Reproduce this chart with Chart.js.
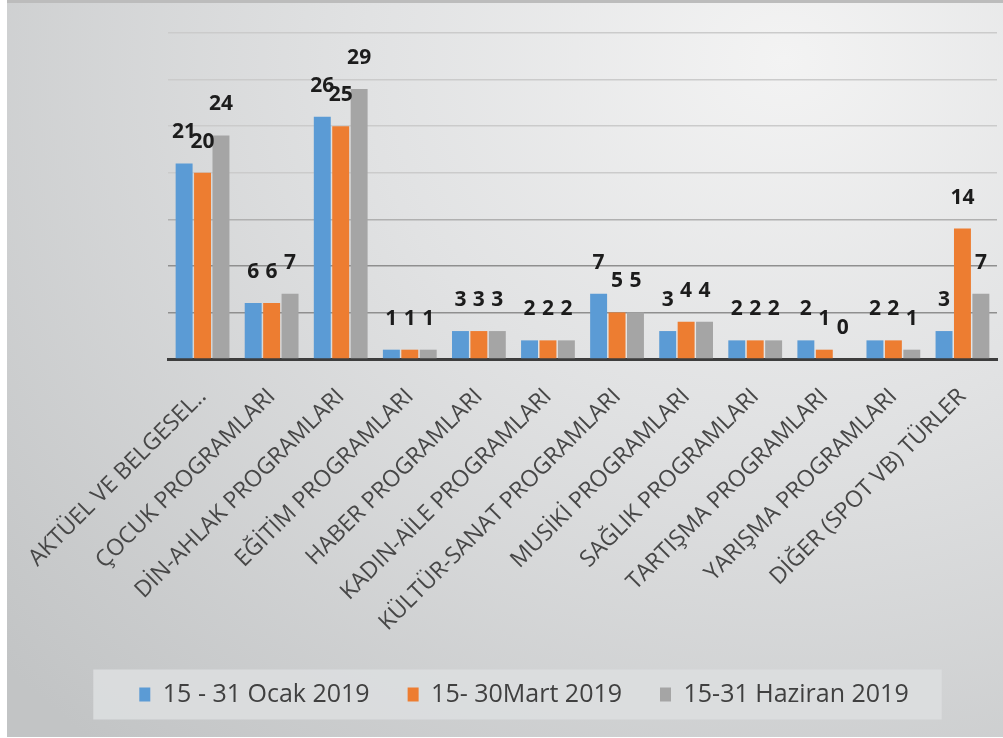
<!DOCTYPE html>
<html>
<head>
<meta charset="utf-8">
<script src="https://cdn.jsdelivr.net/npm/chart.js@4.4.1/dist/chart.umd.min.js"></script>
<style>
html, body { margin: 0; padding: 0; background: #fff; }
#frame {
    position: absolute; left: 7px; top: 0; width: 996px; height: 737px;
    background: radial-gradient(ellipse at 78% 8%, #f3f3f3 0%, #e1e2e3 38%, #c2c4c5 95%);
    box-shadow: inset 0 3px 0 #bcbcbc;
}
#chart { position: absolute; left: 0; top: 0; }
</style>
</head>
<body>
<div id="frame"><canvas id="chart" width="996" height="737"></canvas></div>
<script>
"use strict";
const categories = [
    'AKTÜEL VE BELGESEL..', 'ÇOCUK PROGRAMLARI', 'DİN-AHLAK PROGRAMLARI', 'EĞİTİM PROGRAMLARI',
    'HABER PROGRAMLARI', 'KADIN-AİLE PROGRAMLARI', 'KÜLTÜR-SANAT PROGRAMLARI', 'MUSİKİ PROGRAMLARI',
    'SAĞLIK PROGRAMLARI', 'TARTIŞMA PROGRAMLARI', 'YARIŞMA PROGRAMLARI', 'DİĞER (SPOT VB) TÜRLER'
];
const seriesNames = ['15 - 31 Ocak 2019', '15- 30Mart 2019', '15-31 Haziran 2019'];
const ocak = [21, 6, 26, 1, 3, 2, 7, 3, 2, 2, 2, 3];
const mart = [20, 6, 25, 1, 3, 2, 5, 4, 2, 1, 2, 14];
const haziran = [24, 7, 29, 1, 3, 2, 5, 4, 2, 0, 1, 7];
const seriesColors = ['#5b9bd5', '#ed7d31', '#a5a5a5'];
const yMax = 35;
const yStep = 5;

// numbers above the bars, Excel style
const valueLabels = {
    id: 'valueLabels',
    afterDatasetsDraw(chart) {
        const ctx = chart.ctx;
        ctx.save();
        ctx.font = 'bold 21px "Open Sans"';
        ctx.fillStyle = '#1c1c1c';
        ctx.textAlign = 'center';
        ctx.textBaseline = 'middle';
        chart.data.datasets.forEach((ds, i) => {
            chart.getDatasetMeta(i).data.forEach((bar, j) => {
                ctx.fillText(ds.data[j], bar.x, bar.y - 31);
            });
        });
        ctx.restore();
    }
};

// light box behind the legend
const legendBox = {
    id: 'legendBox',
    beforeDraw(chart) {
        const boxes = chart.legend.legendHitBoxes;
        if (!boxes || !boxes.length) return;
        let left = Infinity, right = -Infinity, top = Infinity, bottom = -Infinity;
        boxes.forEach(b => {
            left = Math.min(left, b.left);
            right = Math.max(right, b.left + b.width);
            top = Math.min(top, b.top);
            bottom = Math.max(bottom, b.top + b.height);
        });
        const cy = (top + bottom) / 2;
        const ctx = chart.ctx;
        ctx.save();
        ctx.fillStyle = 'rgba(220,222,223,0.9)';
        ctx.fillRect(left - 46, cy - 25, right - left + 79, 50);
        ctx.restore();
    }
};

function gridColor(c) {
    const v = c.tick ? c.tick.value : 0;
    if (v === 5 || v === 10) return '#8f8f8f';
    if (v === 15) return '#b0b0b0';
    return '#cbcbcb';
}

const data = {
    labels: categories,
    datasets: [
        { label: seriesNames[0], data: ocak, backgroundColor: seriesColors[0] },
        { label: seriesNames[1], data: mart, backgroundColor: seriesColors[1] },
        { label: seriesNames[2], data: haziran, backgroundColor: seriesColors[2] }
    ]
};

const options = {
    responsive: false,
    animation: false,
    layout: { padding: { left: 44, right: 6, top: 33, bottom: 20 } },
    datasets: {
        bar: { categoryPercentage: 0.8, barPercentage: 0.92 }
    },
    plugins: {
        tooltip: { enabled: false },
        legend: {
            position: 'bottom',
            labels: {
                boxWidth: 11,
                boxHeight: 14,
                padding: 38,
                color: '#404040',
                font: { family: '"Open Sans"', size: 25 }
            }
        }
    },
    scales: {
        x: {
            grid: { display: false },
            border: { display: true, color: '#3d3d3d', width: 3 },
            ticks: {
                autoSkip: false,
                minRotation: 45,
                maxRotation: 45,
                padding: 16,
                color: '#474747',
                font: { family: '"Open Sans"', size: 23 }
            },
            afterFit(scale) { scale.height = 285; }
        },
        y: {
            min: 0,
            max: yMax,
            ticks: { display: false, stepSize: yStep },
            border: { display: false },
            grid: { color: gridColor, lineWidth: 1.5, drawTicks: false },
            afterFit(scale) { scale.width = 117; }
        }
    }
};

new Chart(document.getElementById('chart'), {
    type: 'bar',
    data: data,
    options: options,
    plugins: [legendBox, valueLabels]
});
</script>
</body>
</html>
